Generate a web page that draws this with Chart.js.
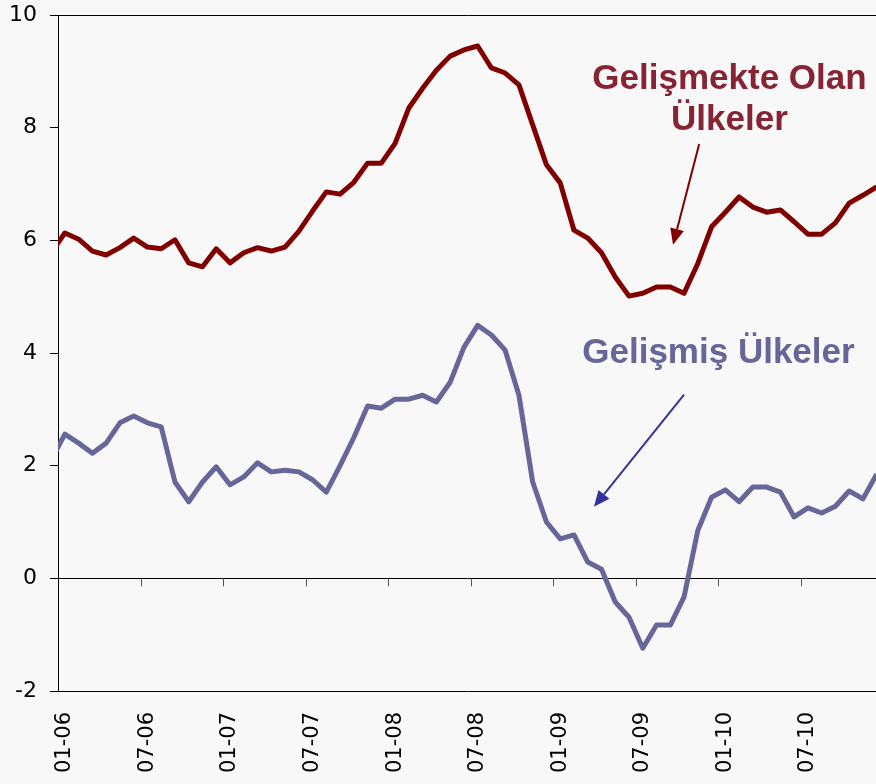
<!DOCTYPE html>
<html>
<head>
<meta charset="utf-8">
<script src="https://cdn.jsdelivr.net/npm/chart.js@4/dist/chart.umd.min.js"></script>
<style>
  html, body { margin: 0; padding: 0; background: #f8f8f8; }
  canvas { display: block; }
</style>
</head>
<body>
<canvas id="chart" width="876" height="784"></canvas>
<script>
// months (first one sits just left of the axis and is clipped)
const months = [
  '12-05',
  '01-06', '02-06', '03-06', '04-06', '05-06', '06-06', '07-06', '08-06', '09-06', '10-06', '11-06', '12-06',
  '01-07', '02-07', '03-07', '04-07', '05-07', '06-07', '07-07', '08-07', '09-07', '10-07', '11-07', '12-07',
  '01-08', '02-08', '03-08', '04-08', '05-08', '06-08', '07-08', '08-08', '09-08', '10-08', '11-08', '12-08',
  '01-09', '02-09', '03-09', '04-09', '05-09', '06-09', '07-09', '08-09', '09-09', '10-09', '11-09', '12-09',
  '01-10', '02-10', '03-10', '04-10', '05-10', '06-10', '07-10', '08-10', '09-10', '10-10', '11-10', '12-10'
];

// Gelişmekte Olan Ülkeler
const emerging = [
  5.78,
  6.13, 6.02, 5.81, 5.74, 5.87, 6.04, 5.88, 5.85, 6.01, 5.60, 5.53, 5.85,
  5.60, 5.78, 5.87, 5.81, 5.88, 6.16, 6.52, 6.86, 6.82, 7.03, 7.37, 7.37,
  7.72, 8.35, 8.70, 9.02, 9.27, 9.38, 9.45, 9.06, 8.97, 8.76, 8.05, 7.34,
  7.02, 6.18, 6.04, 5.78, 5.35, 5.01, 5.06, 5.17, 5.17, 5.06, 5.59, 6.24,
  6.50, 6.77, 6.59, 6.50, 6.54, 6.33, 6.11, 6.11, 6.31, 6.66, 6.80, 6.95
];

// Gelişmiş Ülkeler
const developed = [
  2.10,
  2.56, 2.40, 2.22, 2.40, 2.76, 2.88, 2.76, 2.69, 1.71, 1.36, 1.71, 1.98,
  1.66, 1.80, 2.05, 1.89, 1.92, 1.89, 1.75, 1.53, 2.00, 2.50, 3.06, 3.02,
  3.18, 3.18, 3.25, 3.13, 3.48, 4.10, 4.49, 4.32, 4.05, 3.25, 1.71, 1.00,
  0.70, 0.77, 0.29, 0.16, -0.42, -0.69, -1.24, -0.83, -0.83, -0.33, 0.85, 1.44,
  1.57, 1.36, 1.62, 1.62, 1.53, 1.09, 1.25, 1.16, 1.28, 1.55, 1.41, 1.85
];

// indexes into months that get a label
const labelIdx = [1, 7, 13, 19, 25, 31, 37, 43, 49, 55];

const toPoints = (arr) => arr.map((v, i) => ({ x: i, y: v }));

function drawArrow(ctx, x1, y1, x2, y2, color) {
  const a = Math.atan2(y2 - y1, x2 - x1);
  const len = 16, half = 7;
  const bx = x2 - len * Math.cos(a), by = y2 - len * Math.sin(a);
  ctx.strokeStyle = color;
  ctx.fillStyle = color;
  ctx.lineWidth = 2;
  ctx.beginPath();
  ctx.moveTo(x1, y1);
  ctx.lineTo(bx, by);
  ctx.stroke();
  ctx.beginPath();
  ctx.moveTo(x2, y2);
  ctx.lineTo(bx + half * Math.sin(a), by - half * Math.cos(a));
  ctx.lineTo(bx - half * Math.sin(a), by + half * Math.cos(a));
  ctx.closePath();
  ctx.fill();
}

const decorations = {
  id: 'decorations',
  beforeDatasetsDraw(chart) {
    const { ctx, scales: { x, y } } = chart;
    const y0 = y.getPixelForValue(0);
    ctx.save();
    ctx.strokeStyle = '#555';
    ctx.lineWidth = 1;
    for (let v = 6.5; v < x.max; v += 6) {
      const px = Math.round(x.getPixelForValue(v)) + 0.5;
      ctx.beginPath();
      ctx.moveTo(px, y0);
      ctx.lineTo(px, y0 + 8);
      ctx.stroke();
    }
    ctx.restore();
  },
  afterDatasetsDraw(chart) {
    const { ctx, scales: { x, y } } = chart;
    ctx.save();
    ctx.font = 'bold 35px "Liberation Sans", Arial, sans-serif';
    ctx.textAlign = 'center';
    ctx.textBaseline = 'alphabetic';

    ctx.fillStyle = '#862433';
    ctx.fillText('Gelişmekte Olan', x.getPixelForValue(49.3), y.getPixelForValue(8.69));
    ctx.fillText('Ülkeler', x.getPixelForValue(49.3), y.getPixelForValue(7.96));
    drawArrow(ctx, x.getPixelForValue(47.1), y.getPixelForValue(7.71),
      x.getPixelForValue(45.2), y.getPixelForValue(5.92), '#800000');

    ctx.fillStyle = '#666699';
    ctx.fillText('Gelişmiş Ülkeler', x.getPixelForValue(48.5), y.getPixelForValue(3.82));
    drawArrow(ctx, x.getPixelForValue(46.0), y.getPixelForValue(3.26),
      x.getPixelForValue(39.45), y.getPixelForValue(1.27), '#333399');
    ctx.restore();
  }
};

new Chart(document.getElementById('chart'), {
  type: 'line',
  data: {
    datasets: [
      {
        label: 'Gelişmekte Olan Ülkeler',
        data: toPoints(emerging),
        borderColor: '#800000',
        borderWidth: 5,
        pointRadius: 0,
        tension: 0,
        borderJoinStyle: 'round',
        clip: 0
      },
      {
        label: 'Gelişmiş Ülkeler',
        data: toPoints(developed),
        borderColor: '#666699',
        borderWidth: 5,
        pointRadius: 0,
        tension: 0,
        borderJoinStyle: 'round',
        clip: 0
      }
    ]
  },
  options: {
    responsive: false,
    animation: false,
    devicePixelRatio: 1,
    layout: { padding: { top: 15, left: 0, right: 0, bottom: 0 } },
    plugins: {
      legend: { display: false },
      tooltip: { enabled: false }
    },
    scales: {
      x: {
        type: 'linear',
        min: 0.5,
        max: 59.95,
        afterBuildTicks: (s) => { s.ticks = labelIdx.map((v) => ({ value: v })); },
        afterFit: (s) => {
          s.height = 93;
          s.paddingLeft = 0;
          s.paddingRight = 0;
        },
        grid: { display: false, drawTicks: false },
        border: { display: false },
        ticks: {
          autoSkip: false,
          minRotation: 90,
          maxRotation: 90,
          padding: 21,
          color: '#000',
          font: { family: '"DejaVu Sans", sans-serif', size: 21 },
          callback: (v) => months[v]
        }
      },
      y: {
        min: -2,
        max: 10,
        afterFit: (s) => {
          s.width = 58;
          s.paddingTop = 0;
          s.paddingBottom = 0;
        },
        grid: {
          color: (c) => ([10, 0, -2].includes(c.tick.value) ? '#000' : 'rgba(0,0,0,0)'),
          tickColor: '#000',
          tickLength: 8,
          drawTicks: true
        },
        border: { display: true, color: '#000', width: 1 },
        ticks: {
          stepSize: 2,
          padding: 13,
          color: '#000',
          font: { family: '"DejaVu Sans", sans-serif', size: 22 }
        }
      }
    }
  },
  plugins: [decorations]
});
</script>
</body>
</html>
